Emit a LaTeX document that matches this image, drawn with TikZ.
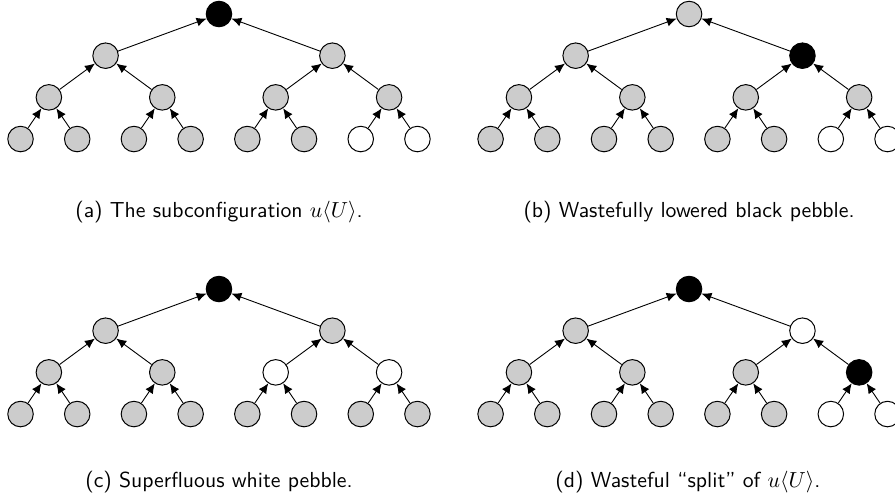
\documentclass[tikz,border=0pt]{standalone}
\usepackage{color}
\usepackage{tikz}
\usetikzlibrary{arrows.meta}
\definecolor{pebblegrey}{rgb}{0.800,0.800,0.800}
\definecolor{myblack}{rgb}{0.000,0.000,0.000}
\definecolor{mywhite}{rgb}{1.000,1.000,1.000}
\tikzstyle{none}=[inner sep=0pt]
\tikzstyle{caption}=[inner sep=0pt,font=\sffamily\fontsize{10.9}{13}\selectfont]
\tikzstyle{blackp}=[circle,fill=myblack,draw=myblack,line width=0.5pt,minimum size=0.45cm,inner sep=0pt]
\tikzstyle{greyp}=[circle,fill=pebblegrey,draw=myblack,line width=0.5pt,minimum size=0.45cm,inner sep=0pt]
\tikzstyle{whitep}=[circle,fill=mywhite,draw=myblack,line width=0.5pt,minimum size=0.45cm,inner sep=0pt]
\tikzstyle{edge}=[-{Latex[length=5pt,width=4.5pt]},line width=0.45pt]

\begin{document}
\begin{tikzpicture}
\useasboundingbox (-3.862,0.247) rectangle (11.922,-8.589);
	% (a)
		\node [style=blackp] (0) at (0,0) {};
		\node [style=greyp] (1) at (-2,-0.735) {};
		\node [style=greyp] (2) at (2,-0.735) {};
		\node [style=greyp] (3) at (-3,-1.47) {};
		\node [style=greyp] (4) at (-1,-1.47) {};
		\node [style=greyp] (5) at (1,-1.47) {};
		\node [style=greyp] (6) at (3,-1.47) {};
		\node [style=greyp] (7) at (-3.5,-2.205) {};
		\node [style=greyp] (8) at (-2.5,-2.205) {};
		\node [style=greyp] (9) at (-1.5,-2.205) {};
		\node [style=greyp] (10) at (-0.5,-2.205) {};
		\node [style=greyp] (11) at (0.5,-2.205) {};
		\node [style=greyp] (12) at (1.5,-2.205) {};
		\node [style=whitep] (13) at (2.5,-2.205) {};
		\node [style=whitep] (14) at (3.5,-2.205) {};
		\draw [style=edge] (1) to (0);
		\draw [style=edge] (2) to (0);
		\draw [style=edge] (3) to (1);
		\draw [style=edge] (4) to (1);
		\draw [style=edge] (5) to (2);
		\draw [style=edge] (6) to (2);
		\draw [style=edge] (7) to (3);
		\draw [style=edge] (8) to (3);
		\draw [style=edge] (9) to (4);
		\draw [style=edge] (10) to (4);
		\draw [style=edge] (11) to (5);
		\draw [style=edge] (12) to (5);
		\draw [style=edge] (13) to (6);
		\draw [style=edge] (14) to (6);
	% (b)
		\node [style=greyp] (15) at (8.29,0) {};
		\node [style=greyp] (16) at (6.29,-0.735) {};
		\node [style=blackp] (17) at (10.29,-0.735) {};
		\node [style=greyp] (18) at (5.29,-1.47) {};
		\node [style=greyp] (19) at (7.29,-1.47) {};
		\node [style=greyp] (20) at (9.29,-1.47) {};
		\node [style=greyp] (21) at (11.29,-1.47) {};
		\node [style=greyp] (22) at (4.79,-2.205) {};
		\node [style=greyp] (23) at (5.79,-2.205) {};
		\node [style=greyp] (24) at (6.79,-2.205) {};
		\node [style=greyp] (25) at (7.79,-2.205) {};
		\node [style=greyp] (26) at (8.79,-2.205) {};
		\node [style=greyp] (27) at (9.79,-2.205) {};
		\node [style=whitep] (28) at (10.79,-2.205) {};
		\node [style=whitep] (29) at (11.79,-2.205) {};
		\draw [style=edge] (16) to (15);
		\draw [style=edge] (17) to (15);
		\draw [style=edge] (18) to (16);
		\draw [style=edge] (19) to (16);
		\draw [style=edge] (20) to (17);
		\draw [style=edge] (21) to (17);
		\draw [style=edge] (22) to (18);
		\draw [style=edge] (23) to (18);
		\draw [style=edge] (24) to (19);
		\draw [style=edge] (25) to (19);
		\draw [style=edge] (26) to (20);
		\draw [style=edge] (27) to (20);
		\draw [style=edge] (28) to (21);
		\draw [style=edge] (29) to (21);
	% (c)
		\node [style=blackp] (30) at (0,-4.85) {};
		\node [style=greyp] (31) at (-2,-5.585) {};
		\node [style=greyp] (32) at (2,-5.585) {};
		\node [style=greyp] (33) at (-3,-6.32) {};
		\node [style=greyp] (34) at (-1,-6.32) {};
		\node [style=whitep] (35) at (1,-6.32) {};
		\node [style=whitep] (36) at (3,-6.32) {};
		\node [style=greyp] (37) at (-3.5,-7.055) {};
		\node [style=greyp] (38) at (-2.5,-7.055) {};
		\node [style=greyp] (39) at (-1.5,-7.055) {};
		\node [style=greyp] (40) at (-0.5,-7.055) {};
		\node [style=greyp] (41) at (0.5,-7.055) {};
		\node [style=greyp] (42) at (1.5,-7.055) {};
		\node [style=greyp] (43) at (2.5,-7.055) {};
		\node [style=greyp] (44) at (3.5,-7.055) {};
		\draw [style=edge] (31) to (30);
		\draw [style=edge] (32) to (30);
		\draw [style=edge] (33) to (31);
		\draw [style=edge] (34) to (31);
		\draw [style=edge] (35) to (32);
		\draw [style=edge] (36) to (32);
		\draw [style=edge] (37) to (33);
		\draw [style=edge] (38) to (33);
		\draw [style=edge] (39) to (34);
		\draw [style=edge] (40) to (34);
		\draw [style=edge] (41) to (35);
		\draw [style=edge] (42) to (35);
		\draw [style=edge] (43) to (36);
		\draw [style=edge] (44) to (36);
	% (d)
		\node [style=blackp] (45) at (8.29,-4.85) {};
		\node [style=greyp] (46) at (6.29,-5.585) {};
		\node [style=whitep] (47) at (10.29,-5.585) {};
		\node [style=greyp] (48) at (5.29,-6.32) {};
		\node [style=greyp] (49) at (7.29,-6.32) {};
		\node [style=greyp] (50) at (9.29,-6.32) {};
		\node [style=blackp] (51) at (11.29,-6.32) {};
		\node [style=greyp] (52) at (4.79,-7.055) {};
		\node [style=greyp] (53) at (5.79,-7.055) {};
		\node [style=greyp] (54) at (6.79,-7.055) {};
		\node [style=greyp] (55) at (7.79,-7.055) {};
		\node [style=greyp] (56) at (8.79,-7.055) {};
		\node [style=greyp] (57) at (9.79,-7.055) {};
		\node [style=whitep] (58) at (10.79,-7.055) {};
		\node [style=whitep] (59) at (11.79,-7.055) {};
		\draw [style=edge] (46) to (45);
		\draw [style=edge] (47) to (45);
		\draw [style=edge] (48) to (46);
		\draw [style=edge] (49) to (46);
		\draw [style=edge] (50) to (47);
		\draw [style=edge] (51) to (47);
		\draw [style=edge] (52) to (48);
		\draw [style=edge] (53) to (48);
		\draw [style=edge] (54) to (49);
		\draw [style=edge] (55) to (49);
		\draw [style=edge] (56) to (50);
		\draw [style=edge] (57) to (50);
		\draw [style=edge] (58) to (51);
		\draw [style=edge] (59) to (51);
\node [style=caption] (ca) at (0,-3.49) {(a) The subconfiguration $u\langle U\rangle$.};
\node [style=caption] (cb) at (8.29,-3.49) {(b) Wastefully lowered black pebble.};
\node [style=caption] (cc) at (0,-8.25) {(c) Superfluous white pebble.};
\node [style=caption] (cd) at (8.27,-8.25) {(d) Wasteful ``split'' of $u\langle U\rangle$.};
\end{tikzpicture}
\end{document}
